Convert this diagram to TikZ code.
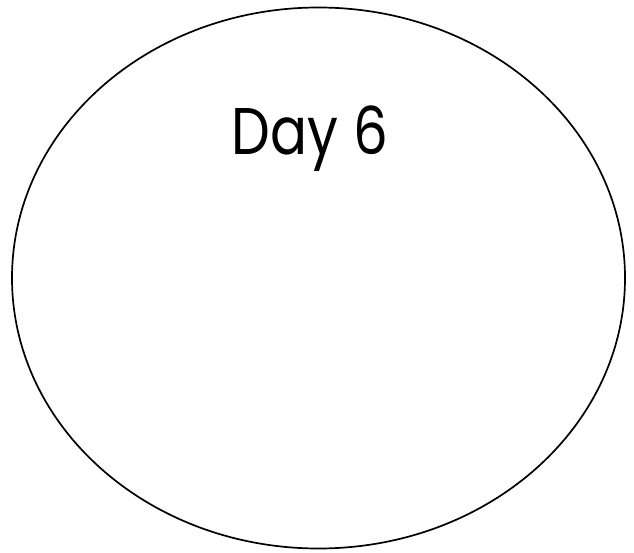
\documentclass[tikz,border=0pt]{standalone}
\usepackage{fontspec}
\setmainfont{Poppins}
\usetikzlibrary{positioning}

\begin{document}
\begin{tikzpicture}[x=1pt,y=-1pt,
  dayring/.style={draw,line width=1.7pt},
  daylabel/.style={font=\fontsize{66}{72}\selectfont,anchor=base,inner sep=0pt,xscale=0.83}]
\useasboundingbox (0,0) rectangle (634,553);
\draw[dayring] (318.5,278) ellipse [x radius=306.5, y radius=270.5];
\node[daylabel] (day) at (310,155) {Day 6};
\end{tikzpicture}
\end{document}
